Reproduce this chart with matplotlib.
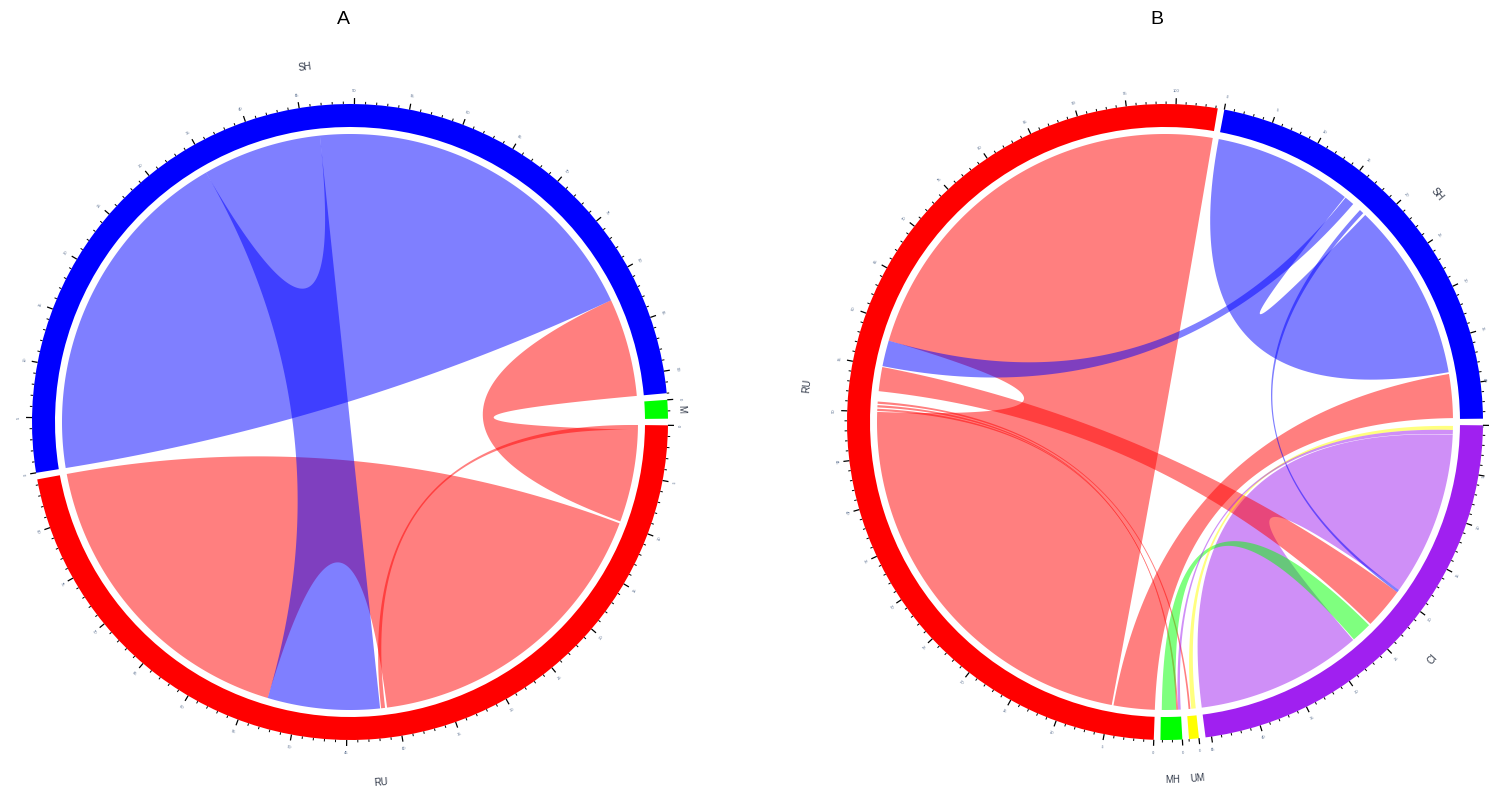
import numpy as np
import matplotlib
matplotlib.use('Agg')
import matplotlib.pyplot as plt
from matplotlib.patches import Wedge, Polygon

plt.rcParams['font.family'] = ['Liberation Sans', 'DejaVu Sans']

# ---------------- data ----------------
# panel A : sectors (clockwise from 3 o'clock) and their sizes in sector units
a_sectors = ['RU', 'SH', 'M']
a_sizes   = [84.5, 92.0, 1.7]
a_colors  = ['#FF0000', '#0000FF', '#00FF00']
a_label_r = [362, 358, 332]
# links: (sector1, from1, to1, sector2, from2, to2), positions in sector units
a_links = [
    ('RU', 10.0, 41.0, 'RU', 53.0, 84.5),
    ('RU', 0.0, 0.5, 'RU', 41.2, 41.6),
    ('RU', 0.5, 9.8, 'SH', 82.1, 92.0),
    ('SH', 0.0, 34.6, 'SH', 46.6, 82.1),
    ('SH', 34.6, 46.6, 'RU', 41.7, 53.0),
]

# panel B
b_sectors = ['CI', 'UM', 'MH', 'RU', 'SH']
b_sizes   = [45.6, 1.0, 2.2, 104.2, 43.7]
b_colors  = ['#A020F0', '#FFFF00', '#00FF00', '#FF0000', '#0000FF']
b_label_r = [358, 358, 358, 360, 355]
b_links = [
    ('CI', 1.1, 19.5, 'CI', 27.0, 45.6),
    ('RU', 4.8, 50.0, 'RU', 58.0, 104.2),
    ('RU', 0.0, 4.6, 'SH', 38.7, 43.6),
    ('RU', 52.3, 55.0, 'CI', 19.8, 24.4),
    ('RU', 50.1, 50.35, 'MH', 0.3, 0.4),
    ('RU', 50.5, 50.75, 'MH', 0.4, 0.5),
    ('RU', 50.9, 51.15, 'UM', 0.6, 0.8),
    ('SH', 0.0, 15.5, 'SH', 18.5, 38.5),
    ('SH', 15.6, 16.7, 'RU', 55.1, 58.0),
    ('SH', 17.7, 18.2, 'CI', 19.5, 19.8),
    ('MH', 0.5, 2.1, 'CI', 24.6, 26.9),
    ('UM', 0.0, 0.5, 'CI', 0.1, 0.55),
    ('CI', 0.55, 1.05, 'MH', 0.0, 0.3),
]

GAP = 1.2          # degrees between sectors
R_OUT, R_IN, R_LINK = 318.0, 295.0, 288.0


def layout(sizes):
    d = (360.0 - GAP*len(sizes))/sum(sizes)
    starts = []
    t = GAP/2
    for s in sizes:
        starts.append(t)
        t += s*d + GAP
    return starts, d


def pt(cx, cy, r, deg):
    a = np.deg2rad(deg)
    return cx + r*np.cos(a), cy + r*np.sin(a)


def arc(cx, cy, r, d1, d2):
    n = max(int(abs(d2-d1)*2), 2)
    a = np.deg2rad(np.linspace(d1, d2, n))
    return np.column_stack([cx + r*np.cos(a), cy + r*np.sin(a)])


def bez(cx, cy, r, d1, d2):
    p0 = np.array(pt(cx, cy, r, d1)); p2 = np.array(pt(cx, cy, r, d2))
    c = np.array([cx, cy])
    t = np.linspace(0, 1, 80)[:, None]
    return (1-t)**2*p0 + 2*t*(1-t)*c + t**2*p2


def tangent_rot(deg):
    rot = (90 - deg) % 180
    if rot > 90:
        rot -= 180
    return rot


def chord_diagram(ax, cx, cy, sectors, sizes, colors, links, label_r):
    starts, d = layout(sizes)
    st = dict(zip(sectors, starts))
    col = dict(zip(sectors, colors))

    # links
    for s1, f1, t1, s2, f2, t2 in links:
        a1, a2 = st[s1] + f1*d, st[s1] + t1*d
        b1, b2 = st[s2] + f2*d, st[s2] + t2*d
        poly = np.vstack([arc(cx, cy, R_LINK, a1, a2),
                          bez(cx, cy, R_LINK, a2, b1),
                          arc(cx, cy, R_LINK, b1, b2),
                          bez(cx, cy, R_LINK, b2, a1)])
        ax.add_patch(Polygon(poly, closed=True, facecolor=col[s1], alpha=0.5,
                             edgecolor='none', zorder=2))

    # track, ticks, names
    for name, size, s0, c, lr in zip(sectors, sizes, starts, colors, label_r):
        ax.add_patch(Wedge((cx, cy), R_OUT, s0, s0 + size*d, width=R_OUT-R_IN,
                           facecolor=c, edgecolor='none', zorder=3))
        for u in range(0, int(size) + 1):
            deg = s0 + u*d
            major = (u % 5 == 0)
            x0, y0 = pt(cx, cy, R_OUT, deg)
            x1, y1 = pt(cx, cy, R_OUT + (6 if major else 2.5), deg)
            ax.plot([x0, x1], [y0, y1], color='black', lw=0.9 if major else 0.7,
                    solid_capstyle='butt', zorder=4)
            if major:
                xt, yt = pt(cx, cy, R_OUT + 13, deg)
                xt = min(xt, 1484)
                ax.text(xt, yt, str(u), fontsize=3, color='#5a6f8f',
                        rotation=tangent_rot(deg), ha='center', va='center',
                        zorder=4)
        mid = s0 + size*d/2
        xl, yl = pt(cx, cy, lr, mid)
        ax.text(xl, yl, name, fontsize=7, color='#303848',
                rotation=tangent_rot(mid), ha='center', va='center', zorder=4)


fig = plt.figure(figsize=(14.9, 7.91), dpi=100)
ax = fig.add_axes([0, 0, 1, 1])
ax.set_xlim(0, 1490)
ax.set_ylim(791, 0)
ax.axis('off')

chord_diagram(ax, 350, 422, a_sectors, a_sizes, a_colors, a_links, a_label_r)
chord_diagram(ax, 1165, 422, b_sectors, b_sizes, b_colors, b_links, b_label_r)

ax.text(343, 20, 'A', fontsize=14, ha='center', va='center')
ax.text(1157, 20, 'B', fontsize=14, ha='center', va='center')

fig.savefig('out.png', dpi=100)
